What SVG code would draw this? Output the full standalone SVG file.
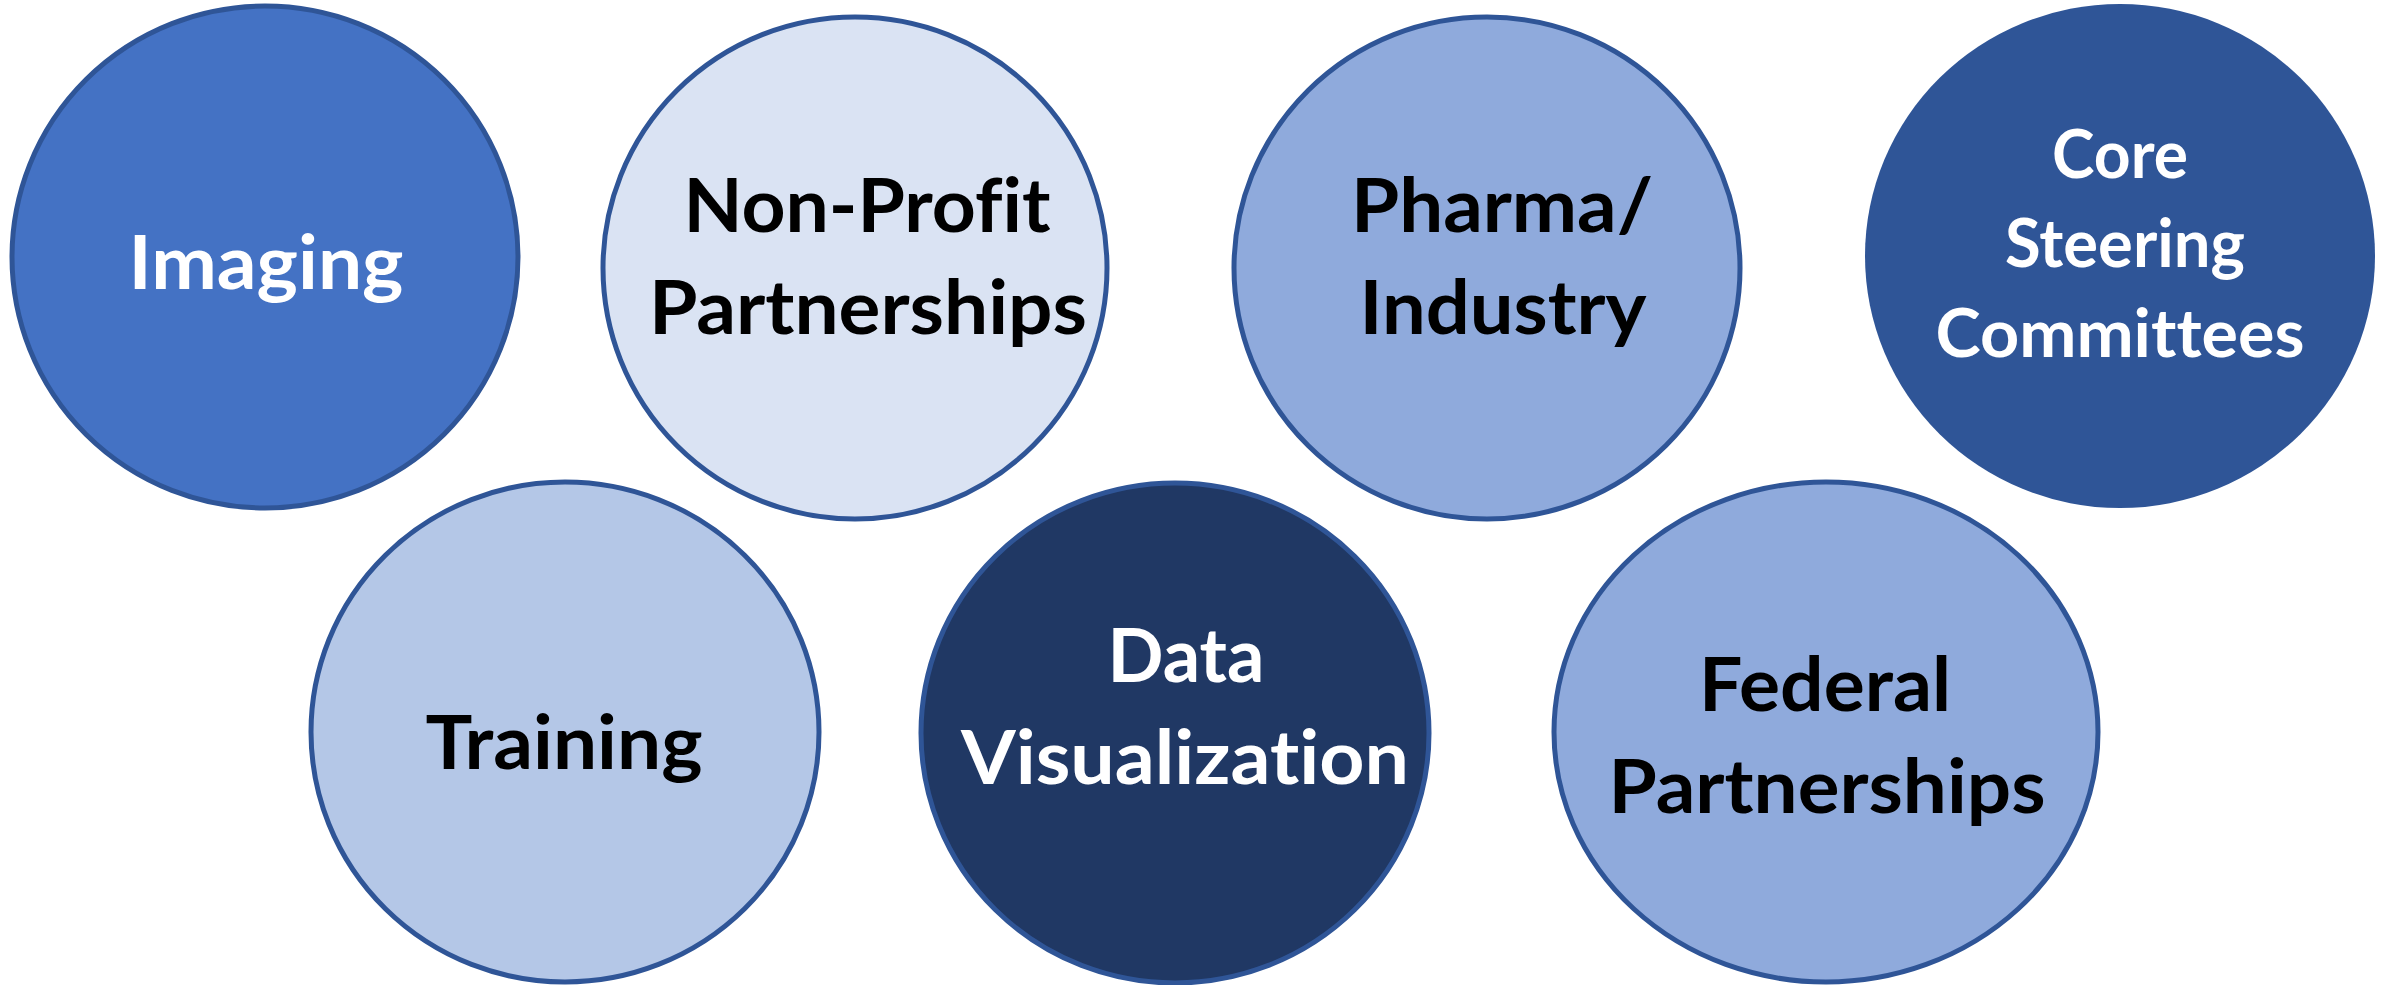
<svg xmlns="http://www.w3.org/2000/svg" width="2389" height="985" viewBox="0 0 2389 985">
<style>
.c{stroke:#2F5597;stroke-width:5}
.t{font-family:Lato,"Open Sans","Liberation Sans",sans-serif;font-weight:bold;font-size:75px;text-anchor:middle;font-variant-ligatures:none;font-feature-settings:"liga" 0,"clig" 0,"dlig" 0}
.w{fill:#FFFFFF}
.k{fill:#000000}
</style>
<rect width="2389" height="985" fill="#FFFFFF"/>
<g id="connectors"></g>
<g id="imaging">
<ellipse class="c" cx="265" cy="257" rx="253" ry="251" fill="#4472C4"/>
<text class="t w" x="266" y="289" textLength="275" lengthAdjust="spacingAndGlyphs">Imaging</text>
</g>
<g id="nonprofit">
<ellipse class="c" cx="855" cy="268" rx="252" ry="251" fill="#DAE3F3"/>
<text class="t k" x="867" y="232" textLength="367" lengthAdjust="spacingAndGlyphs">Non-Profit</text>
<text class="t k" x="868" y="334" textLength="438" lengthAdjust="spacingAndGlyphs">Partnerships</text>
</g>
<g id="pharma">
<ellipse class="c" cx="1487" cy="268" rx="253" ry="251" fill="#8FAADC"/>
<text class="t k" x="1502" y="232" textLength="302" lengthAdjust="spacingAndGlyphs">Pharma/</text>
<text class="t k" x="1503" y="334" textLength="287" lengthAdjust="spacingAndGlyphs">Industry</text>
</g>
<g id="core">
<ellipse cx="2120" cy="256" rx="255" ry="252" fill="#2F5597"/>
<text class="t w" x="2120" y="178" style="font-size:66px" textLength="136" lengthAdjust="spacingAndGlyphs">Core</text>
<text class="t w" x="2125" y="267" style="font-size:66px" textLength="240" lengthAdjust="spacingAndGlyphs">Steering</text>
<text class="t w" x="2120" y="357" style="font-size:66px" textLength="369" lengthAdjust="spacingAndGlyphs">Committees</text>
</g>
<g id="training">
<ellipse class="c" cx="565" cy="732" rx="254" ry="250" fill="#B4C7E7"/>
<text class="t k" x="564" y="769" textLength="277" lengthAdjust="spacingAndGlyphs">Training</text>
</g>
<g id="dataviz">
<ellipse class="c" cx="1175" cy="733" rx="254" ry="250" fill="#203864"/>
<text class="t w" x="1186" y="682" textLength="157" lengthAdjust="spacingAndGlyphs">Data</text>
<text class="t w" x="1185" y="784" textLength="448" lengthAdjust="spacingAndGlyphs">Visualization</text>
</g>
<g id="federal">
<ellipse class="c" cx="1826" cy="732" rx="272" ry="250" fill="#8FAADC"/>
<text class="t k" x="1825" y="711" textLength="252" lengthAdjust="spacingAndGlyphs">Federal</text>
<text class="t k" x="1827" y="813" textLength="437" lengthAdjust="spacingAndGlyphs">Partnerships</text>
</g>
</svg>
